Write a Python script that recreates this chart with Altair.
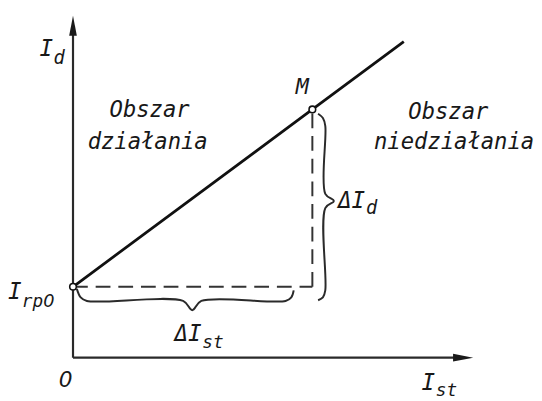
import altair as alt
import pandas as pd

# ---- data (chart units: I_st horizontally, I_d vertically) ----
# characteristic line from I_rp0 through M
char_x = [0.0, 5.0, 6.91]
char_y = [1.0, 3.5, 4.455]

# marked points I_rp0 and M
pts_x = [0.0, 5.0]
pts_y = [1.0, 3.5]

# dashed construction lines
dash_x = [0.0, 5.0, 5.0, 5.0]
dash_y = [1.0, 1.0, 1.0, 3.5]
dash_g = ["h", "h", "v", "v"]

# braces (delta I_st, delta I_d)
brace_h_x = [0.08, 0.16, 0.29, 2.30, 2.49, 2.68, 4.44, 4.56, 4.61]
brace_h_y = [0.97, 0.85, 0.80, 0.80, 0.67, 0.80, 0.80, 0.85, 0.95]
brace_v_x = [5.12, 5.22, 5.27, 5.27, 5.45, 5.27, 5.27, 5.22, 5.12]
brace_v_y = [3.44, 3.38, 3.27, 2.31, 2.21, 2.11, 0.95, 0.85, 0.81]

# axes
axis_x_end = 8.10
axis_y_end = 4.66
arrow_x = [8.15, 0.0]
arrow_y = [0.0, 4.68]
arrow_shape = ["M1,0L-1,-0.38L-1,0.38Z", "M0,-1L0.38,1L-0.38,1Z"]

# labels (monospaced lettering)
lab_c_text = ["Obszar", "działania", "M", "Obszar", "niedziałania"]
lab_c_x = [1.60, 1.56, 4.79, 7.84, 7.96]
lab_c_y = [3.40, 2.94, 3.72, 3.36, 2.94]
lab_c_size = [22.5, 22.5, 22, 22.5, 22.5]

lab_l_text = ["I", "d", "ΔI", "d", "I", "rp", "ΔI", "st", "I", "st"]
lab_l_x = [-0.70, -0.41, 5.535, 6.12, -1.36, -1.07, 2.12, 2.70, 7.28, 7.58]
lab_l_y = [4.25, 4.14, 2.11, 2.03, 0.83, 0.72, 0.24, 0.14, -0.46, -0.54]
lab_l_size = [23, 19, 23, 19, 23, 18, 23, 18, 23, 18]

# digit labels (plain zero)
lab_n_text = ["0", "0"]
lab_n_x = [-0.30, -0.62]
lab_n_y = [-0.42, 0.72]
lab_n_size = [22, 18]

FONT = "DejaVu Sans Mono"
FONT_N = "DejaVu Sans"
INK = "#181818"

xs = alt.Scale(domain=[-1.358, 9.630], nice=False, zero=False)
ys = alt.Scale(domain=[-0.569, 4.889], nice=False, zero=False)
X = lambda f: alt.X(f, type="quantitative", scale=xs, axis=None)
Y = lambda f: alt.Y(f, type="quantitative", scale=ys, axis=None)

axes_df = pd.DataFrame({
    "x": [0.0, 0.0], "y": [0.0, 0.0],
    "x2": [axis_x_end, 0.0], "y2": [0.0, axis_y_end],
})
axes = alt.Chart(axes_df).mark_rule(color="#2a2a2a", strokeWidth=2.2).encode(
    x=X("x"), y=Y("y"), x2="x2", y2="y2")

arrows_df = pd.DataFrame({"x": arrow_x, "y": arrow_y, "s": arrow_shape})
arrows = alt.Chart(arrows_df).mark_point(filled=True, color="#1a1a1a", size=420, opacity=1).encode(
    x=X("x"), y=Y("y"), shape=alt.Shape("s:N", scale=None))

dash_df = pd.DataFrame({"x": dash_x, "y": dash_y, "g": dash_g})
dashed = alt.Chart(dash_df).mark_line(color="#333333", strokeWidth=2, strokeDash=[15, 8]).encode(
    x=X("x"), y=Y("y"), detail="g:N")

char_df = pd.DataFrame({"x": char_x, "y": char_y})
charline = alt.Chart(char_df).mark_line(color="#111111", strokeWidth=2.8).encode(
    x=X("x"), y=Y("y"))

bh = pd.DataFrame({"x": brace_h_x, "y": brace_h_y, "i": range(len(brace_h_x))})
bv = pd.DataFrame({"x": brace_v_x, "y": brace_v_y, "i": range(len(brace_v_x))})
brace_h = alt.Chart(bh).mark_line(color="#2a2a2a", strokeWidth=2, interpolate="catmull-rom").encode(
    x=X("x"), y=Y("y"), order="i:Q")
brace_v = alt.Chart(bv).mark_line(color="#2a2a2a", strokeWidth=2, interpolate="catmull-rom").encode(
    x=X("x"), y=Y("y"), order="i:Q")

pts_df = pd.DataFrame({"x": pts_x, "y": pts_y})
points = alt.Chart(pts_df).mark_point(shape="circle", filled=True, fill="white", stroke="#111111",
                                      strokeWidth=1.6, size=45, opacity=1).encode(x=X("x"), y=Y("y"))

lc = pd.DataFrame({"t": lab_c_text, "x": lab_c_x, "y": lab_c_y, "s": lab_c_size})
labels_c = alt.Chart(lc).mark_text(font=FONT, fontStyle="italic", color=INK, align="center",
                                   baseline="alphabetic").encode(
    x=X("x"), y=Y("y"), text="t:N", size=alt.Size("s:Q", scale=None))

ll = pd.DataFrame({"t": lab_l_text, "x": lab_l_x, "y": lab_l_y, "s": lab_l_size})
labels_l = alt.Chart(ll).mark_text(font=FONT, fontStyle="italic", color=INK, align="left",
                                   baseline="alphabetic").encode(
    x=X("x"), y=Y("y"), text="t:N", size=alt.Size("s:Q", scale=None))

ln = pd.DataFrame({"t": lab_n_text, "x": lab_n_x, "y": lab_n_y, "s": lab_n_size})
labels_n = alt.Chart(ln).mark_text(font=FONT_N, fontStyle="italic", color=INK, align="left",
                                   baseline="alphabetic").encode(
    x=X("x"), y=Y("y"), text="t:N", size=alt.Size("s:Q", scale=None))

chart = alt.layer(axes, arrows, dashed, brace_h, brace_v, charline, points,
                  labels_c, labels_l, labels_n).properties(
    width=534, height=393, autosize=alt.AutoSizeParams(type="none"), padding=0,
    background="white"
).configure_view(stroke=None)

chart.save("out.html", embed_options={"renderer": "svg", "actions": False})
